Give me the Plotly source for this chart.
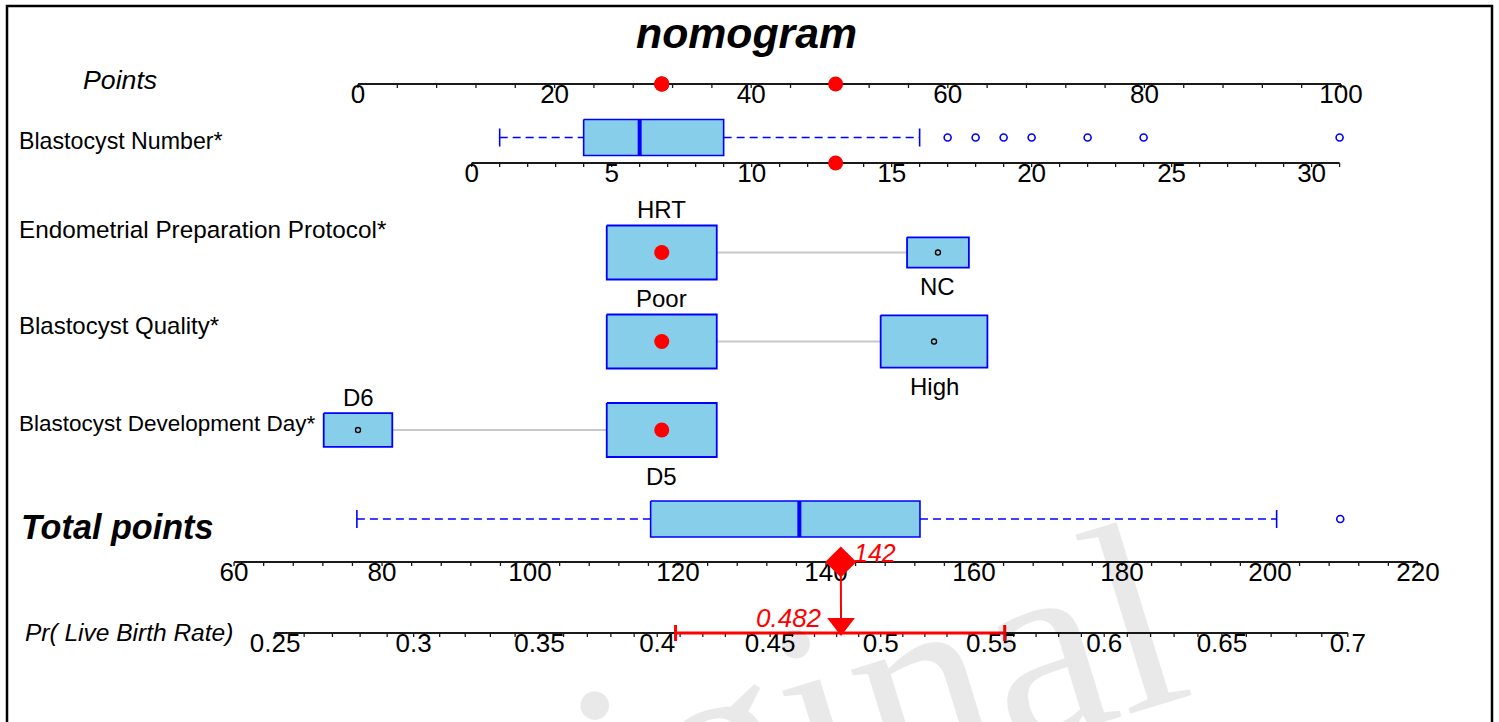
import math
import plotly.graph_objects as go

# ------------------------------------------------------------------ data
points_tick_values = list(range(0, 101, 4))
points_label_values = [0, 20, 40, 60, 80, 100]

number_tick_values = list(range(0, 32))
number_label_values = [0, 5, 10, 15, 20, 25, 30]
number_box_stats = [1, 4, 6, 9, 16]          # low whisker, Q1, median, Q3, high whisker
number_outliers = [17, 18, 19, 20, 22, 24, 31]
number_points_range = [-4.06, 31.05]          # blastocyst number at 0 and at 100 points
number_selected = 13

cat_names = ["Endometrial Preparation Protocol*", "Blastocyst Quality*", "Blastocyst Development Day*"]
epp_levels = ["HRT", "NC"]
epp_points = [30.9, 59.0]
epp_freq = [0.76, 0.24]
quality_levels = ["Poor", "High"]
quality_points = [30.9, 58.6]
quality_freq = [0.515, 0.485]
day_levels = ["D6", "D5"]
day_points = [0.0, 30.9]
day_freq = [0.28, 0.72]
selected_levels = ["HRT", "Poor", "D5"]

total_tick_values = list(range(60, 221, 4))
total_label_values = list(range(60, 221, 20))
total_box_stats = [76.6, 116.3, 136.4, 152.7, 200.9]
total_outliers = [209.5]
total_points_range = [76.75, 209.6]           # total points at 0 and at 100 points
total_selected = 142

prob_tick_values = [0.25, 0.26, 0.27, 0.28, 0.29, 0.30, 0.31, 0.32, 0.33, 0.34, 0.35, 0.36,
                    0.37, 0.38, 0.39, 0.40, 0.41, 0.42, 0.43, 0.44, 0.45, 0.46, 0.47, 0.48,
                    0.49, 0.50, 0.51, 0.52, 0.53, 0.54, 0.55, 0.56, 0.57, 0.58, 0.59, 0.60,
                    0.61, 0.62, 0.63, 0.64, 0.65, 0.66, 0.67, 0.68, 0.69, 0.70]
prob_label_values = [0.25, 0.3, 0.35, 0.4, 0.45, 0.5, 0.55, 0.6, 0.65, 0.7]
prob_selected = 0.482
prob_ci = [0.408, 0.556]
logit_intercept = -1.9785                     # logit(p) = a + b * total points
logit_slope = 0.013423

# ------------------------------------------------------------------ layout constants
FIG_W, FIG_H = 1499, 722
P0_PX, PX_PER_POINT = 358, 9.83
FONT = "Liberation Sans, Arial, sans-serif"
BLUE, FILL, RED, GREY = "#0000ff", "#87ceeb", "#ff0000", "#c8c8c8"
AXIS_COLOR = "#1a1a1a"

Y_POINTS, Y_NUM_BOX, Y_NUM_AXIS = 84, 137.5, 163
Y_CAT = [252.5, 341.5, 430]
Y_TOT_BOX, Y_TOT_AXIS, Y_PROB_AXIS = 519, 562, 633
TICK_LEN, LABEL_GAP = 4, 12
BOX_HALF_H = 18
CAT_HALF_W_PX, CAT_HALF_H = 55, 27
TICK_FONT = 26


def total_from_prob(p):
    return (math.log(p / (1 - p)) - logit_intercept) / logit_slope


def points_to(rng, p):
    return rng[0] + p / 100.0 * (rng[1] - rng[0])


def to_points(rng, v):
    return (v - rng[0]) * 100.0 / (rng[1] - rng[0])


x_rng_points = [(0 - P0_PX) / PX_PER_POINT, (FIG_W - P0_PX) / PX_PER_POINT]
x_rng_number = [points_to(number_points_range, p) for p in x_rng_points]
x_rng_total = [points_to(total_points_range, p) for p in x_rng_points]

fig = go.Figure()


def add_axis(xref, tick_x, label_x, label_text, y, size=TICK_FONT):
    fig.add_trace(go.Scatter(x=[tick_x[0], tick_x[-1]], y=[y, y], mode="lines",
                             line=dict(color=AXIS_COLOR, width=2), xaxis=xref, hoverinfo="skip"))
    tx, ty = [], []
    for t in tick_x:
        tx += [t, t, None]
        ty += [y, y + TICK_LEN, None]
    fig.add_trace(go.Scatter(x=tx, y=ty, mode="lines", line=dict(color=AXIS_COLOR, width=1.3),
                             xaxis=xref, hoverinfo="skip"))
    fig.add_trace(go.Scatter(x=label_x, y=[y + LABEL_GAP] * len(label_x), mode="text",
                             text=label_text, textposition="middle center",
                             textfont=dict(family=FONT, size=size, color="black"),
                             xaxis=xref, hoverinfo="skip"))


def add_numeric_box(xref, stats, outliers, y):
    lo, q1, med, q3, hi = stats
    h = BOX_HALF_H
    fig.add_trace(go.Scatter(x=[lo, q1, None, q3, hi], y=[y, y, None, y, y], mode="lines",
                             line=dict(color=BLUE, width=1.6, dash="8px,5px"), xaxis=xref, hoverinfo="skip"))
    fig.add_trace(go.Scatter(x=[lo, lo, None, hi, hi], y=[y - 9, y + 9, None, y - 9, y + 9], mode="lines",
                             line=dict(color=BLUE, width=1.6), xaxis=xref, hoverinfo="skip"))
    fig.add_trace(go.Scatter(x=[q1, q3, q3, q1, q1], y=[y - h, y - h, y + h, y + h, y - h],
                             mode="lines", fill="toself", fillcolor=FILL,
                             line=dict(color=BLUE, width=1.6), xaxis=xref, hoverinfo="skip"))
    fig.add_trace(go.Scatter(x=[med, med], y=[y - h, y + h], mode="lines",
                             line=dict(color=BLUE, width=4), xaxis=xref, hoverinfo="skip"))
    fig.add_trace(go.Scatter(x=outliers, y=[y] * len(outliers), mode="markers",
                             marker=dict(symbol="circle-open", size=7, color=BLUE, line=dict(width=1.6)),
                             xaxis=xref, hoverinfo="skip"))


# ---- Points axis
add_axis("x", points_tick_values, points_label_values, [str(v) for v in points_label_values], Y_POINTS)

# ---- Blastocyst number
add_numeric_box("x2", number_box_stats, number_outliers, Y_NUM_BOX)
add_axis("x2", number_tick_values, number_label_values, [str(v) for v in number_label_values], Y_NUM_AXIS)

# ---- categorical rows
annotations = []
cat_levels = [epp_levels, quality_levels, day_levels]
cat_points = [epp_points, quality_points, day_points]
cat_freq = [epp_freq, quality_freq, day_freq]
selected_points = []
for levels, pts, freq, y in zip(cat_levels, cat_points, cat_freq, Y_CAT):
    fig.add_trace(go.Scatter(x=pts, y=[y, y], mode="lines", line=dict(color=GREY, width=2),
                             xaxis="x", hoverinfo="skip"))
    fmax = max(freq)
    for k, (lev, p, f) in enumerate(zip(levels, pts, freq)):
        s = math.sqrt(f / fmax)
        hw = CAT_HALF_W_PX * s / PX_PER_POINT
        hh = CAT_HALF_H * s
        fig.add_trace(go.Scatter(x=[p - hw, p + hw, p + hw, p - hw, p - hw],
                                 y=[y - hh, y - hh, y + hh, y + hh, y - hh],
                                 mode="lines", fill="toself", fillcolor=FILL,
                                 line=dict(color=BLUE, width=1.8), xaxis="x", hoverinfo="skip"))
        if lev in selected_levels:
            selected_points.append(p)
            fig.add_trace(go.Scatter(x=[p], y=[y], mode="markers",
                                     marker=dict(color=RED, size=15), xaxis="x", hoverinfo="skip"))
        else:
            fig.add_trace(go.Scatter(x=[p], y=[y], mode="markers",
                                     marker=dict(symbol="circle-open", color="black", size=5,
                                                 line=dict(width=1.4)),
                                     xaxis="x", hoverinfo="skip"))
        ly = y - hh - 16 if k == 0 else y + hh + 19
        annotations.append(dict(x=p, y=ly, xref="x", yref="y", text=lev, showarrow=False,
                                xanchor="center", yanchor="middle",
                                font=dict(family=FONT, size=24, color="black")))

# selected values on the Points axis and on the number axis
number_sel_points = to_points(number_points_range, number_selected)
fig.add_trace(go.Scatter(x=selected_points + [number_sel_points], y=[Y_POINTS] * (len(selected_points) + 1),
                         mode="markers", marker=dict(color=RED, size=15), xaxis="x", hoverinfo="skip"))
fig.add_trace(go.Scatter(x=[number_selected], y=[Y_NUM_AXIS], mode="markers",
                         marker=dict(color=RED, size=15), xaxis="x2", hoverinfo="skip"))

# ---- Total points
add_numeric_box("x3", total_box_stats, total_outliers, Y_TOT_BOX)
add_axis("x3", total_tick_values, total_label_values, [str(v) for v in total_label_values], Y_TOT_AXIS)

# ---- probability axis (on total-points scale through the logistic link)
add_axis("x3", [total_from_prob(p) for p in prob_tick_values],
         [total_from_prob(p) for p in prob_label_values],
         [("%g" % p) for p in prob_label_values], Y_PROB_AXIS)

ci_x = [total_from_prob(p) for p in prob_ci]
fig.add_trace(go.Scatter(x=ci_x, y=[Y_PROB_AXIS] * 2, mode="lines", line=dict(color=RED, width=3),
                         xaxis="x3", hoverinfo="skip"))
fig.add_trace(go.Scatter(x=[ci_x[0], ci_x[0], None, ci_x[1], ci_x[1]],
                         y=[Y_PROB_AXIS - 8, Y_PROB_AXIS + 8, None, Y_PROB_AXIS - 8, Y_PROB_AXIS + 8],
                         mode="lines", line=dict(color=RED, width=3), xaxis="x3", hoverinfo="skip"))
sel_prob_x = total_from_prob(prob_selected)
fig.add_trace(go.Scatter(x=[total_selected, sel_prob_x], y=[Y_TOT_AXIS, Y_PROB_AXIS - 10], mode="lines",
                         line=dict(color=RED, width=2), xaxis="x3", hoverinfo="skip"))
fig.add_trace(go.Scatter(x=[total_selected], y=[Y_TOT_AXIS], mode="markers",
                         marker=dict(symbol="diamond", color=RED, size=24), xaxis="x3", hoverinfo="skip"))
fig.add_trace(go.Scatter(x=[sel_prob_x], y=[Y_PROB_AXIS - 9], mode="markers",
                         marker=dict(symbol="triangle-down", color=RED, size=24), xaxis="x3", hoverinfo="skip"))

annotations += [
    dict(x=total_selected, y=Y_TOT_AXIS - 9, xref="x3", yref="y", text="<i>%d</i>" % total_selected,
         showarrow=False, xanchor="left", yanchor="middle", xshift=11,
         font=dict(family=FONT, size=25, color=RED)),
    dict(x=sel_prob_x, y=Y_PROB_AXIS - 15, xref="x3", yref="y", text="<i>%g</i>" % prob_selected,
         showarrow=False, xanchor="right", yanchor="middle", xshift=-17,
         font=dict(family=FONT, size=26, color=RED)),
]

# ---- row labels
def row_label(text, x_px, y, size, style=""):
    t = text
    if "i" in style:
        t = "<i>%s</i>" % t
    if "b" in style:
        t = "<b>%s</b>" % t
    annotations.append(dict(x=x_px / FIG_W, y=y, xref="paper", yref="y", text=t, showarrow=False,
                            xanchor="left", yanchor="middle", font=dict(family=FONT, size=size, color="black")))


row_label("Points", 81, 80, 26.7, "i")
row_label("Blastocyst Number*", 17, 141, 23.2)
for name, y, sz in zip(cat_names, [229, 325, 423], [24.3, 24.0, 22.5]):
    row_label(name, 17, y, sz)
row_label("Total points", 19, 527, 34.2, "bi")
row_label("Pr( Live Birth Rate)", 23, 632, 24.5, "i")

# title
annotations.append(dict(x=746 / FIG_W, y=33, xref="paper", yref="y", text="<b><i>nomogram</i></b>",
                        showarrow=False, xanchor="center", yanchor="middle",
                        font=dict(family=FONT, size=42.8, color="black")))

# watermark
annotations.append(dict(x=740 / FIG_W, y=(FIG_H - 738) / FIG_H, xref="paper", yref="paper", text="Original",
                        showarrow=False, xanchor="center", yanchor="middle", textangle=-17,
                        font=dict(family="Liberation Serif, Times New Roman, serif", size=270,
                                  color="rgba(0,0,0,0.085)")))

fig.update_layout(
    width=FIG_W, height=FIG_H,
    margin=dict(l=0, r=0, t=0, b=0),
    paper_bgcolor="white", plot_bgcolor="white",
    showlegend=False,
    xaxis=dict(range=x_rng_points, visible=False, fixedrange=True),
    xaxis2=dict(range=x_rng_number, visible=False, overlaying="x", fixedrange=True),
    xaxis3=dict(range=x_rng_total, visible=False, overlaying="x", fixedrange=True),
    yaxis=dict(range=[FIG_H, 0], visible=False, fixedrange=True),
    annotations=annotations,
    shapes=[dict(type="rect", xref="paper", yref="paper", x0=7 / FIG_W, x1=1492 / FIG_W,
                 y0=-0.2, y1=(FIG_H - 6) / FIG_H, line=dict(color="black", width=2.5))],
)

fig.write_html("out.html", config={"displayModeBar": False},
               post_script="document.body.style.margin='0px';")
